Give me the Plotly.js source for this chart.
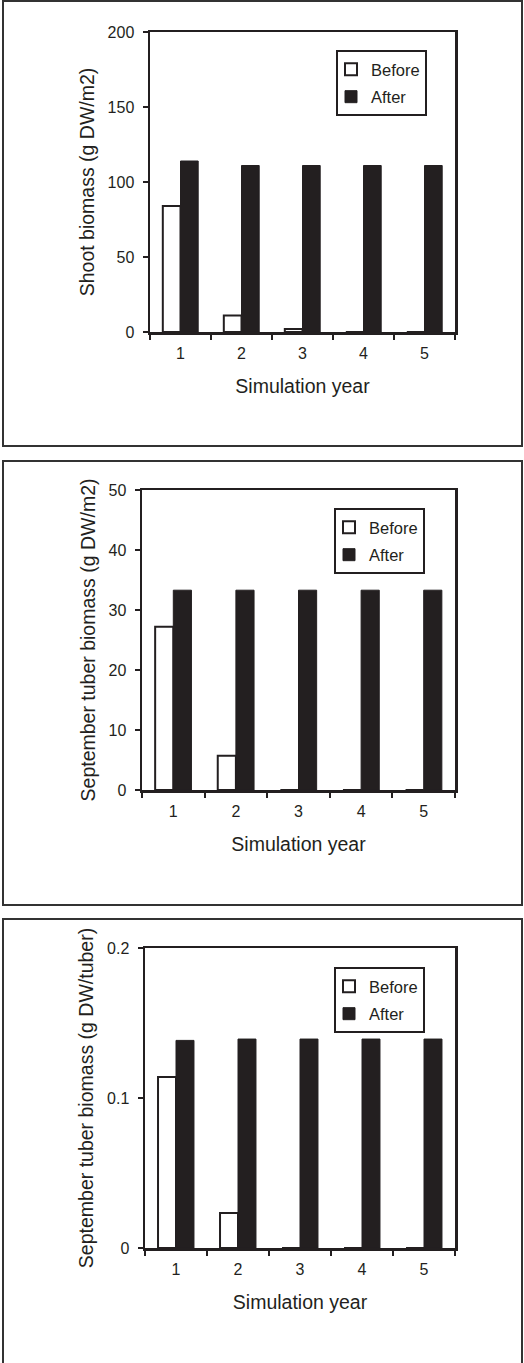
<!DOCTYPE html>
<html>
<head>
<meta charset="utf-8">
<script src="https://cdn.plot.ly/plotly-3.0.1.min.js"></script>
<style>html,body{margin:0;padding:0;background:#fff;}#chart{width:524px;height:1363px;}</style>
</head>
<body>
<div id="chart"></div>
<script>
const years = ['1', '2', '3', '4', '5'];
const shootBefore = [84, 11, 2, 0, 0];
const shootAfter = [114, 111, 111, 111, 111];
const tuberAreaBefore = [27.2, 5.7, 0, 0, 0];
const tuberAreaAfter = [33.3, 33.3, 33.3, 33.3, 33.3];
const tuberEachBefore = [0.114, 0.0233, 0, 0, 0];
const tuberEachAfter = [0.1384, 0.1393, 0.1393, 0.1393, 0.1393];
const seriesNames = ['Before', 'After'];
const yTitles = ['Shoot biomass (g DW/m2)', 'September tuber biomass (g DW/m2)', 'September tuber biomass (g DW/tuber)'];
const xTitle = 'Simulation year';

const W = 524, H = 1363;
const ink = '#231f20';
const fam = '"Liberation Sans", Arial, sans-serif';

function px(x) { return x / W; }
function py(y) { return (H - y) / H; }

// panel geometry in pixels: [left, right, top, bottom] of plot area
const panels = [
  {xl: 150, xr: 455, yt: 32, yb: 332, range: [0, 200], dtick: 50, before: shootBefore, after: shootAfter, leg: [427, 50], box: [3, 522, 1, 446]},
  {xl: 142, xr: 455, yt: 490, yb: 790, range: [0, 50], dtick: 10, before: tuberAreaBefore, after: tuberAreaAfter, leg: [425, 508], box: [3, 522, 461, 905]},
  {xl: 145, xr: 455, yt: 948, yb: 1248, range: [0, 0.2], dtick: 0.1, before: tuberEachBefore, after: tuberEachAfter, leg: [425, 967], box: [3, 522, 919, 1368]}
];

const data = [];
const layout = {
  width: W, height: H,
  margin: {l: 0, r: 0, t: 0, b: 0},
  paper_bgcolor: '#fff', plot_bgcolor: '#fff',
  barmode: 'group', bargap: 0.42, bargroupgap: 0,
  font: {family: fam, color: ink, size: 16},
  shapes: [],
  showlegend: true
};

panels.forEach((p, i) => {
  const n = i === 0 ? '' : String(i + 1);
  const xa = 'x' + n, ya = 'y' + n;
  const legName = 'legend' + n;
  data.push({
    type: 'bar', x: years, y: p.before, name: seriesNames[0], xaxis: xa, yaxis: ya,
    marker: {color: '#ffffff', line: {color: ink, width: 2}},
    legend: legName, legendgroup: 'b' + i, hoverinfo: 'x+y+name'
  });
  data.push({
    type: 'bar', x: years, y: p.after, name: seriesNames[1], xaxis: xa, yaxis: ya,
    marker: {color: ink, line: {color: ink, width: 1}},
    legend: legName, legendgroup: 'a' + i, hoverinfo: 'x+y+name'
  });
  layout['xaxis' + n] = {
    domain: [px(p.xl), px(p.xr)], anchor: ya,
    type: 'category', tickson: 'boundaries',
    ticks: 'outside', ticklen: 5, tickwidth: 2, tickcolor: ink,
    showline: true, linewidth: 2.5, linecolor: ink, mirror: true,
    showgrid: false, zeroline: false, fixedrange: true,
    tickfont: {size: 16, color: ink, family: fam},
    ticklabelstandoff: 5,
    title: {text: xTitle, font: {size: 19.5, color: ink, family: fam}, standoff: 19}
  };
  layout['yaxis' + n] = {
    domain: [py(p.yb), py(p.yt)], anchor: xa,
    range: p.range, dtick: p.dtick, tick0: 0,
    ticks: 'outside', ticklen: 5, tickwidth: 2, tickcolor: ink,
    showline: true, linewidth: 2.5, linecolor: ink, mirror: true,
    showgrid: false, zeroline: false, fixedrange: true,
    tickfont: {size: 16, color: ink, family: fam},
    ticklabelstandoff: 5,
    title: {text: yTitles[i], font: {size: 19.5, color: ink, family: fam}, standoff: 8}
  };
  layout[legName] = {
    x: px(p.leg[0]), y: py(p.leg[1]), xanchor: 'right', yanchor: 'top',
    bgcolor: '#fff', bordercolor: ink, borderwidth: 2,
    font: {size: 16.5, color: ink, family: fam},
    traceorder: 'grouped', tracegroupgap: 3, itemwidth: 30, indentation: -7
  };
  layout.shapes.push({
    type: 'rect', xref: 'paper', yref: 'paper',
    x0: px(p.box[0]), x1: px(p.box[1]), y0: py(p.box[3]), y1: py(p.box[2]),
    line: {color: '#333333', width: 2}, fillcolor: 'rgba(0,0,0,0)', layer: 'below'
  });
});

Plotly.newPlot('chart', data, layout, {displayModeBar: false, staticPlot: true});
</script>
</body>
</html>
